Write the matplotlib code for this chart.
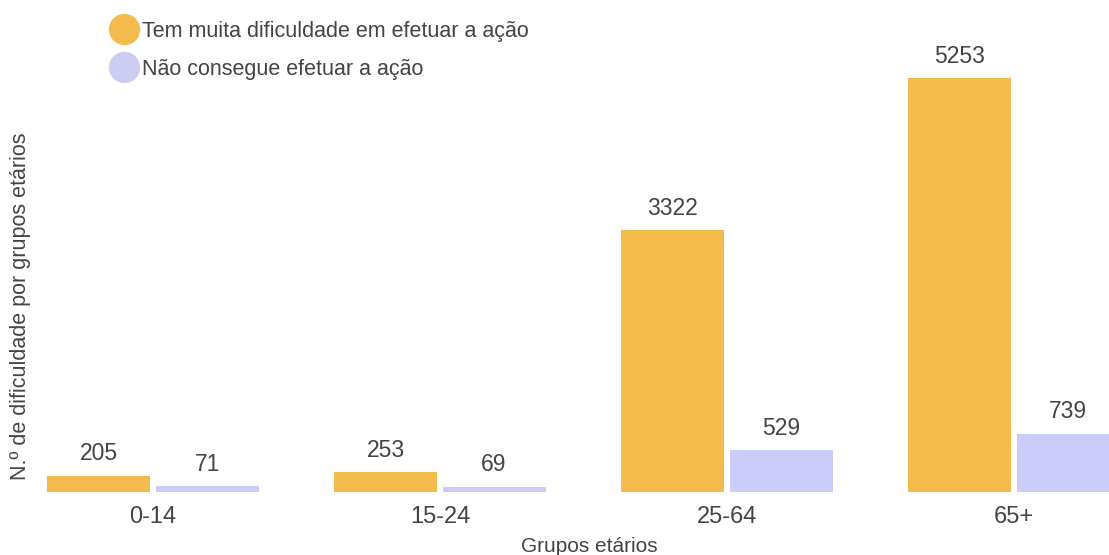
import numpy as np
from matplotlib import pyplot as plt
from matplotlib.lines import Line2D

grupos = ['0-14', '15-24', '25-64', '65+']
muita_dificuldade = [205, 253, 3322, 5253]
nao_consegue = [71, 69, 529, 739]

cor_laranja = '#F2BB4C'
cor_lilas = '#CCCCFA'
cor_texto = '#444444'

plt.rcParams['font.family'] = ['Liberation Sans', 'DejaVu Sans']

fig = plt.figure(figsize=(11.09, 5.55), dpi=100)
ax = fig.add_axes([0, 63/555, 1, 492/555])

x = np.arange(len(grupos))
w = 0.359
gap = 0.009

b1 = ax.bar(x - w/2 - gap, muita_dificuldade, w, color=cor_laranja)
b2 = ax.bar(x + w/2 + gap, nao_consegue, w, color=cor_lilas)

for bars, vals in [(b1, muita_dificuldade), (b2, nao_consegue)]:
    for b, v in zip(bars, vals):
        ax.annotate(str(v), (b.get_x() + b.get_width()/2, v),
                    xytext=(0, 7.5), textcoords='offset points',
                    ha='center', va='bottom', fontsize=16.5, color=cor_texto)

ax.set_xlim(-153/287, (1109-153)/287)
ax.set_ylim(0, 5253*492/414)
ax.set_xticks(x)
ax.set_xticklabels(grupos, fontsize=17, color=cor_texto)
ax.tick_params(axis='x', length=0, pad=10)
ax.set_yticks([])
for s in ax.spines.values():
    s.set_visible(False)

fig.text(589/1109, 1 - 547/555, 'Grupos etários', ha='center', va='center',
         fontsize=15, color=cor_texto)
fig.text(21/1109, 1 - 306/555, 'N.º de dificuldade por grupos etários',
         ha='center', va='center', rotation=90, fontsize=15.5, color=cor_texto)

handles = [Line2D([], [], marker='o', linestyle='none', markersize=21.5,
                  color=cor_laranja),
           Line2D([], [], marker='o', linestyle='none', markersize=21.5,
                  color='#CCCCF2')]
fig.legend(handles, ['Tem muita dificuldade em efetuar a ação',
                     'Não consegue efetuar a ação'],
           loc='upper left', bbox_to_anchor=(113/1109, 1 - 20.5/555),
           frameon=False, fontsize=15.5, labelcolor=cor_texto,
           handlelength=1.0, handletextpad=0.35, labelspacing=0.8,
           borderpad=0, borderaxespad=0)

fig.savefig('out.png', dpi=100)
